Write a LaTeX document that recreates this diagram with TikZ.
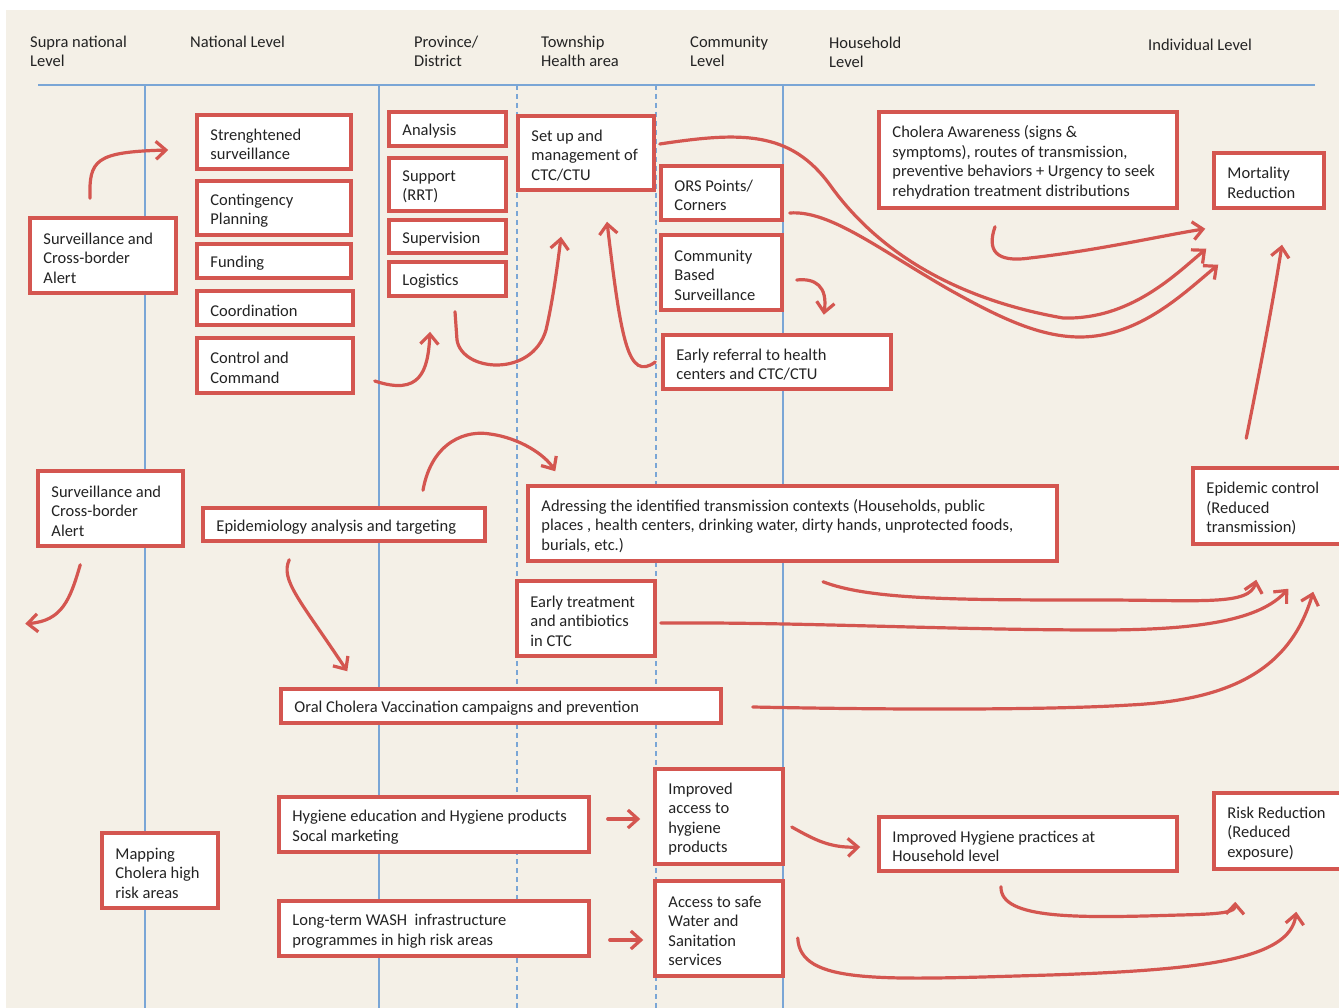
\documentclass[tikz,border=0pt]{standalone}
\usepackage{fontspec}
\setmainfont{Carlito}
\usetikzlibrary{arrows.meta,calc}
\definecolor{bgbeige}{RGB}{244,240,231}
\definecolor{boxred}{RGB}{212,86,80}
\definecolor{laneblue}{RGB}{122,166,214}
\definecolor{txtgray}{RGB}{35,35,35}
\tikzset{
  box/.style={draw=boxred,line width=3.5pt,fill=white,inner sep=0pt},
  boxtext/.style={anchor=west,align=left,inner sep=0pt,text=txtgray,font=\fontsize{16.5}{19.5}\selectfont},
  flow/.style={draw=boxred,line width=3.2pt,line cap=round,-{Straight Barb[length=10pt,width=18pt]}},
  lane/.style={draw=laneblue,line width=1.3pt},
  dashlane/.style={lane,dash pattern=on 5pt off 4pt},
  level/.style={anchor=north west,align=left,inner sep=0pt,text=txtgray,font=\fontsize{16.5}{18.5}\selectfont}
}
% box from its pixel corners: name, x1, y1, x2, y2, text
\newcommand{\rbox}[6]{%
  \pgfmathsetmacro\bw{#4-#2}\pgfmathsetmacro\bh{#5-#3}%
  \node[box,minimum width=\bw pt,minimum height=\bh pt] (#1) at ({(#2+#4)/2},{(#3+#5)/2}) {};
  \node[boxtext] (#1-t) at ([xshift=15pt,yshift=-2.5pt]#1.west) {#6};}
\begin{document}
\begin{tikzpicture}[x=1pt,y=-1pt]
\useasboundingbox (0,0) rectangle (1339,1008);
\clip (0,0) rectangle (1339,1008);
\fill[white] (0,0) rectangle (1339,1008);
\fill[bgbeige] (6,10) rectangle (1339,1008);
%lanes
\draw[lane] (38,85) -- (1315,85);
\foreach \lx in {145,379,783} \draw[lane] (\lx,85) -- (\lx,1008);
\foreach \lx in {517,656} \draw[dashlane] (\lx,85) -- (\lx,1008);
%levels
\node[level] (hsupra) at (30,36) {Supra national\\Level};
\node[level] (hnat) at (190,36) {National Level};
\node[level] (hprov) at (414,36) {Province/\\District};
\node[level] (htown) at (541,36) {Township\\Health area};
\node[level] (hcomm) at (690,36) {Community\\Level};
\node[level] (hhouse) at (829,37) {Household\\Level};
\node[level] (hind) at (1148,39) {Individual Level};
%national
\rbox{strsurv}{197}{115}{351}{169}{Strenghtened\\surveillance}
\rbox{conting}{197}{181}{351}{235}{Contingency\\Planning}
\rbox{fund}{197}{244}{351}{278}{Funding}
\rbox{coord}{197}{291}{353}{325}{Coordination}
\rbox{ctrl}{197}{338}{353}{393}{Control and\\Command}
\rbox{survA}{30}{218}{176}{293}{Surveillance and\\Cross-border\\Alert}
%province
\rbox{anal}{389}{112}{506}{146}{Analysis}
\rbox{supp}{389}{158}{506}{211}{Support\\(RRT)}
\rbox{superv}{389}{220}{506}{253}{Supervision}
\rbox{logis}{389}{262}{506}{296}{Logistics}
%township and community
\rbox{setup}{518}{116}{654}{190}{Set up and\\management of\\CTC/CTU}
\rbox{ors}{661}{166}{782}{220}{ORS Points/\\Corners}
\rbox{cbs}{661}{235}{782}{310}{Community\\Based\\Surveillance}
\rbox{referral}{663}{335}{891}{389}{Early referral to health\\centers and CTC/CTU}
\rbox{aware}{879}{112}{1177}{208}{Cholera Awareness (signs \&\\symptoms), routes of transmission,\\preventive behaviors + Urgency to seek\\rehydration treatment distributions}
\rbox{mort}{1214}{153}{1324}{208}{Mortality\\Reduction}
%middle band
\rbox{survB}{38}{471}{183}{546}{Surveillance and\\Cross-border\\Alert}
\rbox{epid}{203}{508}{485}{541}{Epidemiology analysis and targeting}
\rbox{addr}{528}{486}{1057}{561}{Adressing the identified transmission contexts (Households, public\\places , health centers, drinking water, dirty hands, unprotected foods,\\burials, etc.)}
\rbox{epictl}{1193}{468}{1352}{544}{Epidemic control\\(Reduced\\transmission)}
\rbox{early}{517}{581}{655}{656}{Early treatment\\and antibiotics\\in CTC}
\rbox{ocv}{281}{689}{721}{723}{Oral Cholera Vaccination campaigns and prevention}
%lower band
\rbox{hyged}{279}{797}{589}{852}{Hygiene education and Hygiene products\\Socal marketing}
\rbox{wash}{279}{901}{589}{956}{Long-term WASH\ \ infrastructure\\programmes in high risk areas}
\rbox{mapping}{102}{833}{218}{908}{Mapping\\Cholera high\\risk areas}
\rbox{impacc}{655}{769}{783}{864}{Improved\\access to\\hygiene\\products}
\rbox{water}{655}{881}{783}{976}{Access to safe\\Water and\\Sanitation\\services}
\rbox{hhprac}{879}{817}{1177}{871}{Improved Hygiene practices at\\Household level}
\rbox{riskred}{1214}{793}{1352}{869}{Risk Reduction\\(Reduced\\exposure)}
%arrows, top band
\draw[flow] ($(survA.north)+(-13,-18)$) .. controls (89,160) and (95,152) .. ($(strsurv.west)+(-27,8)$);
\draw[flow] ($(ctrl.east)+(20,15.5)$) .. controls (420,396) and (428,372) .. ($(logis.south)+(-17.5,34)$);
\draw[flow] ($(logis.south)+(7.5,14)$) -- (457,340) .. controls (462,372) and (532,378) .. (546,330) .. controls (553,300) and (558,262) .. ($(setup.south)+(-25,45)$);
\draw[flow] ($(referral.west)+(-6,0)$) .. controls (628,382) and (621,340) .. ($(setup.south)+(21,30)$);
\draw[flow] ($(setup.east)+(4,-9)$) .. controls (740,132) and (790,130) .. (830,185) .. controls (880,255) and (960,300) .. (1063,318) .. controls (1130,320) and (1175,275) .. ($(mort.south west)+(-6,39)$);
\draw[flow] ($(ors.east)+(6,20)$) .. controls (830,210) and (880,250) .. (950,290) .. controls (1000,318) and (1040,337) .. (1080,337) .. controls (1140,337) and (1185,292) .. ($(mort.south west)+(6,55)$);
\draw[flow] ($(aware.south)+(-33,17)$) .. controls (987,250) and (995,263) .. (1030,258) .. controls (1100,250) and (1160,236) .. ($(mort.south west)+(-7,19)$);
\draw[flow] ($(cbs.east)+(13,7.5)$) .. controls (815,278) and (828,286) .. ($(cbs.south east)+(40,3)$);
\draw[flow] ($(epictl.north west)+(55,-28)$) .. controls (1262,360) and (1275,290) .. ($(mort.south)+(13,35)$);
%arrows, middle band
\draw[flow] ($(epid.north)+(79,-16)$) .. controls (432,440) and (468,430) .. (490,434) .. controls (520,438) and (545,455) .. ($(addr.north west)+(29,-13)$);
\draw[flow] ($(epid.south west)+(88,17)$) .. controls (280,580) and (300,600) .. ($(ocv.north west)+(68,-16)$);
\draw[flow] ($(survB.south west)+(44,17)$) .. controls (70,600) and (62,621) .. ($(survB.south west)+(-11,76)$);
\draw[flow] ($(addr.south)+(30.5,19)$) .. controls (870,600) and (960,600) .. (1100,600) .. controls (1200,600) and (1250,606) .. ($(epictl.south west)+(65,34)$);
\draw[flow] ($(early.east)+(4,4.5)$) .. controls (800,622) and (950,630) .. (1100,630) .. controls (1200,630) and (1260,620) .. ($(epictl.south west)+(97,43)$);
\draw[flow] ($(ocv.east)+(30,1)$) .. controls (900,710) and (1050,710) .. (1130,705) .. controls (1230,700) and (1290,670) .. ($(epictl.south west)+(122,46)$);
%arrows, lower band
\draw[flow] ($(hyged.east)+(17,-5.5)$) -- ($(impacc.west)+(-13,2.5)$);
\draw[flow] ($(wash.east)+(19,11.5)$) -- ($(water.west)+(-10,11.5)$);
\draw[flow] ($(impacc.east)+(7,10.5)$) .. controls (815,840) and (830,848) .. ($(hhprac.west)+(-17,3)$);
\draw[flow] ($(hhprac.south)+(-27,14)$) .. controls (1000,920) and (1080,918) .. (1180,915) .. controls (1225,914) and (1235,912) .. ($(riskred.south west)+(23,31)$);
\draw[flow] ($(water.east)+(13,9.5)$) .. controls (800,985) and (880,980) .. (1050,975) .. controls (1200,970) and (1290,960) .. ($(riskred.south west)+(84,41)$);
\end{tikzpicture}
\end{document}
